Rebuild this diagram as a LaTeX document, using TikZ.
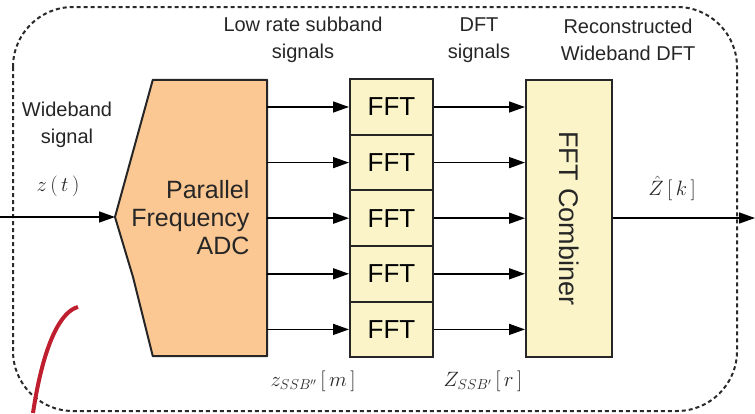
\documentclass[tikz,border=0pt]{standalone}
\usepackage{fontspec}
\setmainfont{Liberation Sans}
\usetikzlibrary{arrows.meta}
\definecolor{adcfill}{HTML}{FBC893}
\definecolor{fftfill}{HTML}{FAF4C8}
\definecolor{dashcol}{HTML}{2A2A2A}
\definecolor{redmark}{HTML}{BE1E2D}
\begin{document}
\begin{tikzpicture}[x=1pt,y=-1pt,
  lbl/.style={align=center,font=\fontsize{20}{27}\selectfont,text=black!85},
  fftbox/.style={draw=black!85,line width=2pt,fill=fftfill,minimum width=83pt,minimum height=55.6pt,inner sep=0pt,font=\fontsize{26}{30}\selectfont},
  sig/.style={-{Triangle[length=16pt,width=11pt]},line width=1.5pt,black},
  mathlbl/.style={font=\fontsize{20}{24}\selectfont,text=black!85}]
\useasboundingbox (0,0) rectangle (755,413);
% outer dashed boundary
\draw[dashcol,line width=2pt,dash pattern=on 4pt off 3pt,rounded corners=60pt] (13,7) rectangle (737,411);
% ADC
\node[minimum width=114pt,minimum height=276pt,inner sep=0pt] (adc) at (210,218) {};
\coordinate (adcP) at (115,217);
\draw[black!85,line width=2pt,fill=adcfill,line join=round]
  (adc.north west) -- (adc.north east) -- (adc.south east) -- (adc.south west)
  -- (133,277) -- (adcP) -- cycle;
\node[anchor=east,align=right,font=\fontsize{25}{28}\selectfont,text=black!85] (adctxt) at (253,218) {Parallel\\Frequency\\ADC};
% FFT boxes
\foreach \i in {1,...,5}{
  \node[fftbox] (f\i) at (391.5,{107+55.6*(\i-1)}) {FFT};
}
% combiner
\node[draw=black!85,line width=2pt,fill=fftfill,minimum width=86pt,minimum height=277pt,inner sep=0pt] (comb) at (569,218.5) {};
\node[rotate=-90,font=\fontsize{27}{30}\selectfont,text=black!85] (combtxt) at (comb.center) {FFT Combiner};
% arrows
\foreach \i in {1,...,5}{
  \draw[sig] (adc.east |- f\i.west) -- (f\i.west);
  \draw[sig] (f\i.east) -- (comb.west |- f\i.east);
}
\coordinate (inL) at (0,217);
\coordinate (outR) at (755,218);
\draw[sig] (inL) -- (adcP);
\draw[sig] (comb.east |- outR) -- (outR);
% labels
\node[lbl] (l1) at (303,40) {Low rate subband\\signals};
\node[lbl] (l2) at (479,40) {DFT\\signals};
\node[lbl] (l3) at (628,40) {Reconstructed\\Wideband DFT};
\node[lbl] (l4) at (67,125) {Wideband\\signal};
\node[mathlbl] (zt) at (58,186) {$z\,(\,t\,)$};
\node[mathlbl] (zk) at (672,188) {$\hat{Z}\,[\,k\,]$};
\node[mathlbl] (zm) at (313,381) {$z_{SSB''}\,[\,m\,]$};
\node[mathlbl] (zr) at (483,381) {$Z_{SSB'}\,[\,r\,]$};
% red stroke
\draw[redmark,line width=4pt] (78,307) .. controls (62,311) and (44,340) .. (33,413);
\end{tikzpicture}
\end{document}
